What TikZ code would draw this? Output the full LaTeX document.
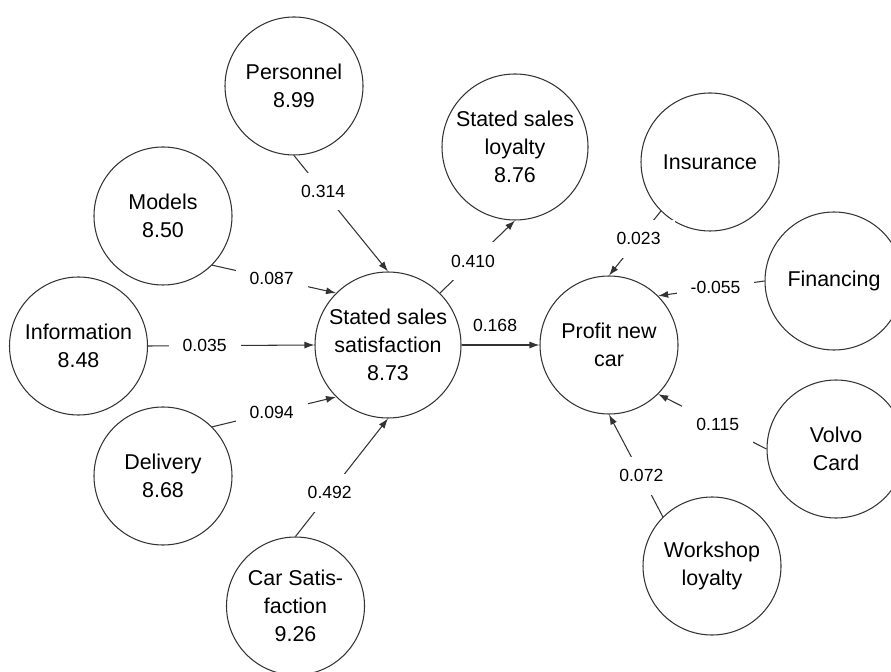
\documentclass[tikz,border=0pt]{standalone}
\usepackage{fontspec}
\setmainfont{Liberation Sans}
\usetikzlibrary{arrows.meta}

\begin{document}
\begin{tikzpicture}[
		scale=1,
		>={Latex[length=2mm, width=1.4mm]},
		every node/.style={circle, draw=black!80, line width=0.6pt, minimum size=2.76cm, inner sep=0pt, align=center, font=\fontsize{12.2}{15.9}\selectfont},
		big/.style={minimum size=2.92cm},
		lbl/.style={rectangle, draw=none, fill=white, minimum size=0pt, inner xsep=0.28cm, inner ysep=0.25cm, font=\fontsize{10}{12}\selectfont},
		conn/.style={->, draw=black!80, line width=0.6pt}
	]
  \useasboundingbox (0cm, 0cm) rectangle (17.82cm, 13.42cm);
  \node (pers) at (5.88cm, 11.70cm) {Personnel\\8.99};
  \node (models) at (3.26cm, 9.10cm) {Models\\8.50};
  \node (info) at (1.57cm, 6.50cm) {Information\\8.48};
  \node (deliv) at (3.26cm, 3.90cm) {Delivery\\8.68};
  \node (car_sat) at (5.91cm, 1.30cm) {Car Satis-\\faction\\9.26};
  \node (sss) [big] at (7.76cm, 6.52cm) {Stated sales\\satisfaction\\8.73};
  \node (ssl) [big] at (10.30cm, 10.48cm) {Stated sales\\loyalty\\8.76};
  \node (profit) at (12.18cm, 6.52cm) {Profit new\\car};
  \node (insur) at (14.20cm, 10.18cm) {Insurance};
  \node (financ) at (16.68cm, 7.80cm) {Financing};
  \node (volvo) at (16.72cm, 4.44cm) {Volvo\\Card};
  \node (workshop) at (14.24cm, 2.10cm) {Workshop\\loyalty};
  \draw (pers.south) edge [conn] node [lbl, pos=0.31] {0.314} (sss.north);
  \draw (models.south east) edge [conn] node [lbl, pos=0.48] {0.087} (sss.north west);
  \draw (info.east) edge [conn] node [lbl, pos=0.34] {0.035} (sss.west);
  \draw (deliv.north east) edge [conn] node [lbl, pos=0.48] {0.094} (sss.south west);
  \draw (car_sat.north) edge [conn] node [lbl, pos=0.37] {0.492} (sss.south);
  \draw (sss.north east) edge [conn] node [lbl, pos=0.44] {0.410} (ssl.south);
  \draw (sss.east) edge [conn] node [lbl, fill=none, above, pos=0.43] {0.168} (profit.west);
  \draw (insur.south west) edge [conn] node [lbl, pos=0.43] {0.023} (profit.north);
  \draw (financ.west) edge [conn] node [lbl, pos=0.46] {-0.055} (profit.north east);
  \draw (volvo.west) edge [conn] node [lbl, pos=0.45] {0.115} (profit.south east);
  \draw (workshop.north west) edge [conn] node [lbl, pos=0.40] {0.072} (profit.south);
\end{tikzpicture}
\end{document}
